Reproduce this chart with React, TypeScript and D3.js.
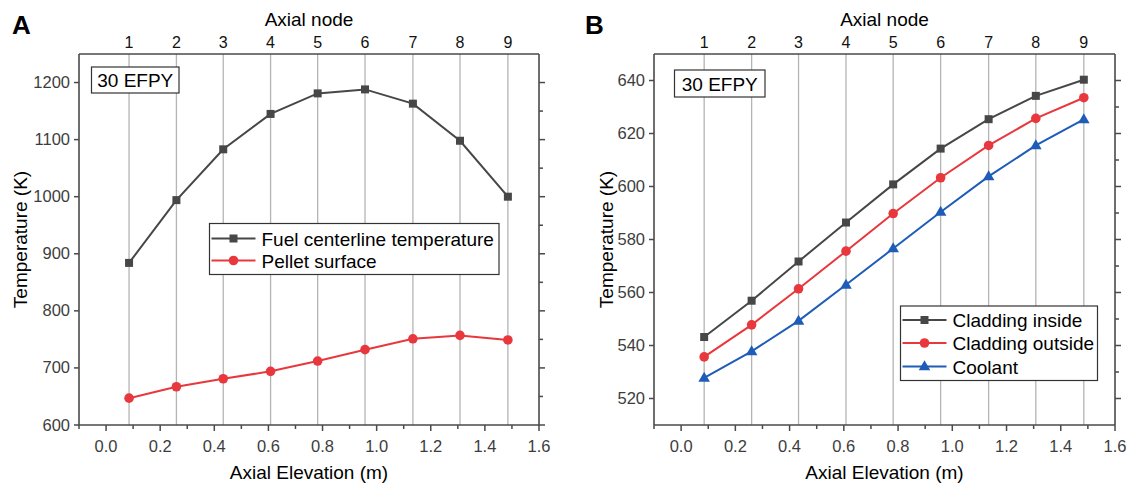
import React from 'react';
import * as d3 from 'd3';

// ---- data ----
const nodePositions = [0.085, 0.26, 0.433, 0.608, 0.782, 0.957, 1.134, 1.308, 1.485];
const nodeLabels = ['1', '2', '3', '4', '5', '6', '7', '8', '9'];
const xTicks = [0, 0.2, 0.4, 0.6, 0.8, 1.0, 1.2, 1.4, 1.6];
const xMinorTicks = [-0.1, 0.1, 0.3, 0.5, 0.7, 0.9, 1.1, 1.3, 1.5];

const fuelCenterline = [884, 994, 1083, 1145, 1181, 1188, 1163, 1098, 1000];
const pelletSurface = [647, 667, 681, 694, 712, 732, 751, 757, 749];
const yTicksA = [600, 700, 800, 900, 1000, 1100, 1200];
const yMinorA = [650, 750, 850, 950, 1050, 1150];

const claddingInside = [543.2, 556.9, 571.7, 586.4, 600.8, 614.3, 625.4, 634.2, 640.3];
const claddingOutside = [535.7, 547.8, 561.4, 575.6, 589.8, 603.3, 615.5, 625.7, 633.5];
const coolant = [527.8, 537.8, 549.3, 562.9, 576.6, 590.4, 603.8, 615.5, 625.3];
const yTicksB = [520, 540, 560, 580, 600, 620, 640];
const yMinorB = [530, 550, 570, 590, 610, 630];

const FONT = "'Liberation Sans', Arial, Helvetica, sans-serif";
const BLACK = '#474747';
const RED = '#e8383d';
const BLUE = '#1f5cb8';

type Series = { name: string; values: number[]; color: string; marker: 'square' | 'circle' | 'triangle' };

function Marker({ x, y, color, marker }: { x: number; y: number; color: string; marker: string }) {
  if (marker === 'square') {
    const s = 8;
    return <rect x={x - s / 2} y={y - s / 2} width={s} height={s} fill={color} />;
  }
  if (marker === 'circle') {
    return <circle cx={x} cy={y} r={4.8} fill={color} />;
  }
  const path = d3.symbol().type(d3.symbolTriangle).size(58)();
  return <path d={path || ''} transform={`translate(${x},${y + 0.5})`} fill={color} />;
}

function Panel(props: {
  letter: string;
  letterX: number;
  x0: number;
  x1: number;
  yDomain: [number, number];
  yTicks: number[];
  yMinor: number[];
  series: Series[];
  legend: { x: number; y: number; w: number; h: number; rowY: number[] };
  efpy: { x: number; y: number; w: number; h: number };
  yTitleX: number;
}) {
  const { x0, x1 } = props;
  const top = 54;
  const bottom = 425;
  const x = d3.scaleLinear().domain([-0.1, 1.6]).range([x0, x1]);
  const y = d3.scaleLinear().domain(props.yDomain).range([bottom, top]);
  const frameColor = '#4a4a4a';
  const tickColor = '#4a4a4a';
  const labelColor = '#3d3d3d';
  const cx = (x0 + x1) / 2;
  const line = d3
    .line<number>()
    .x((_, i) => x(nodePositions[i]))
    .y((d) => y(d));
  const lg = props.legend;
  return (
    <g>
      <text x={props.letterX} y={34} fontFamily={FONT} fontWeight="bold" fontSize={26} fill="#000">
        {props.letter}
      </text>
      {/* grid lines at axial nodes */}
      {nodePositions.map((p, i) => (
        <line key={'g' + i} x1={x(p)} x2={x(p)} y1={top} y2={bottom} stroke="#b4b4b4" strokeWidth={1.3} />
      ))}
      {/* top axis labels */}
      {nodePositions.map((p, i) => (
        <text key={'n' + i} x={x(p)} y={48} textAnchor="middle" fontFamily={FONT} fontSize={16} fill="#111">
          {nodeLabels[i]}
        </text>
      ))}
      <text x={cx} y={26} textAnchor="middle" fontFamily={FONT} fontSize={19} fill="#000">
        Axial node
      </text>
      {/* frame */}
      <line x1={x0} x2={x1} y1={top} y2={top} stroke={frameColor} strokeWidth={1.6} />
      <line x1={x0} x2={x1} y1={bottom} y2={bottom} stroke={frameColor} strokeWidth={1.6} />
      <line x1={x0} x2={x0} y1={top} y2={bottom} stroke={frameColor} strokeWidth={1.6} />
      <line x1={x1} x2={x1} y1={top} y2={bottom} stroke={frameColor} strokeWidth={1.6} />
      {/* bottom ticks */}
      {xTicks.map((t) => (
        <g key={'xt' + t}>
          <line x1={x(t)} x2={x(t)} y1={bottom} y2={bottom + 6} stroke={tickColor} strokeWidth={1.5} />
          <text x={x(t)} y={452} textAnchor="middle" fontFamily={FONT} fontSize={16.5} fill={labelColor}>
            {d3.format('.1f')(t)}
          </text>
        </g>
      ))}
      {xMinorTicks.map((t) => (
        <line key={'xm' + t} x1={x(t)} x2={x(t)} y1={bottom} y2={bottom + 4} stroke={tickColor} strokeWidth={1.5} />
      ))}
      <text x={cx} y={479} textAnchor="middle" fontFamily={FONT} fontSize={19} fill="#000">
        Axial Elevation (m)
      </text>
      {/* left ticks + labels */}
      {props.yTicks.map((t) => (
        <g key={'yt' + t}>
          <line x1={x0 - 5} x2={x0} y1={y(t)} y2={y(t)} stroke={tickColor} strokeWidth={1.5} />
          <text x={x0 - 9} y={y(t) + 5.5} textAnchor="end" fontFamily={FONT} fontSize={16.5} fill={labelColor}>
            {t}
          </text>
          <line x1={x1} x2={x1 + 6} y1={y(t)} y2={y(t)} stroke={tickColor} strokeWidth={1.5} />
        </g>
      ))}
      {props.yMinor.map((t) => (
        <line key={'ym' + t} x1={x1} x2={x1 + 4} y1={y(t)} y2={y(t)} stroke={tickColor} strokeWidth={1.5} />
      ))}
      <text
        transform={`translate(${props.yTitleX},${(top + bottom) / 2}) rotate(-90)`}
        textAnchor="middle"
        dominantBaseline="central"
        fontFamily={FONT}
        fontSize={19}
        fill="#000"
      >
        Temperature (K)
      </text>
      {/* series */}
      {props.series.map((s) => (
        <g key={s.name}>
          <path d={line(s.values) || ''} fill="none" stroke={s.color} strokeWidth={2} />
          {s.values.map((v, i) => (
            <Marker key={i} x={x(nodePositions[i])} y={y(v)} color={s.color} marker={s.marker} />
          ))}
        </g>
      ))}
      {/* 30 EFPY box */}
      <rect
        x={props.efpy.x}
        y={props.efpy.y}
        width={props.efpy.w}
        height={props.efpy.h}
        fill="#fff"
        stroke="#333"
        strokeWidth={1.2}
      />
      <text
        x={props.efpy.x + props.efpy.w / 2}
        y={props.efpy.y + props.efpy.h / 2 + 7}
        textAnchor="middle"
        fontFamily={FONT}
        fontSize={19}
        fill="#000"
      >
        30 EFPY
      </text>
      {/* legend */}
      <rect x={lg.x} y={lg.y} width={lg.w} height={lg.h} fill="#fff" stroke="#333" strokeWidth={1.2} />
      {props.series.map((s, i) => (
        <g key={'l' + s.name}>
          <line x1={lg.x + 2} x2={lg.x + 46} y1={lg.rowY[i]} y2={lg.rowY[i]} stroke={s.color} strokeWidth={2} />
          <Marker x={lg.x + 24} y={lg.rowY[i]} color={s.color} marker={s.marker} />
          <text x={lg.x + 52} y={lg.rowY[i] + 7} fontFamily={FONT} fontSize={19} fill="#000">
            {s.name}
          </text>
        </g>
      ))}
    </g>
  );
}

export default function App() {
  const seriesA: Series[] = [
    { name: 'Fuel centerline temperature', values: fuelCenterline, color: BLACK, marker: 'square' },
    { name: 'Pellet surface', values: pelletSurface, color: RED, marker: 'circle' },
  ];
  const seriesB: Series[] = [
    { name: 'Cladding inside', values: claddingInside, color: BLACK, marker: 'square' },
    { name: 'Cladding outside', values: claddingOutside, color: RED, marker: 'circle' },
    { name: 'Coolant', values: coolant, color: BLUE, marker: 'triangle' },
  ];
  return (
    <svg
      width={1129}
      height={484}
      viewBox="0 0 1129 484"
      style={{ position: 'absolute', left: 0, top: 0, background: '#fff' }}
    >
      <rect width={1129} height={484} fill="#fff" />
      <Panel
        letter="A"
        letterX={12}
        x0={79}
        x1={539}
        yDomain={[600, 1250]}
        yTicks={yTicksA}
        yMinor={yMinorA}
        series={seriesA}
        legend={{ x: 209.5, y: 223.5, w: 289.5, h: 51, rowY: [238.5, 260.5] }}
        efpy={{ x: 91.5, y: 67, w: 87.5, h: 26 }}
        yTitleX={20}
      />
      <Panel
        letter="B"
        letterX={585}
        x0={654}
        x1={1115}
        yDomain={[510, 650]}
        yTicks={yTicksB}
        yMinor={yMinorB}
        series={seriesB}
        legend={{ x: 900.5, y: 306, w: 197, h: 74.5, rowY: [320, 343, 366.5] }}
        efpy={{ x: 674.5, y: 70, w: 90.5, h: 27 }}
        yTitleX={606}
      />
    </svg>
  );
}
